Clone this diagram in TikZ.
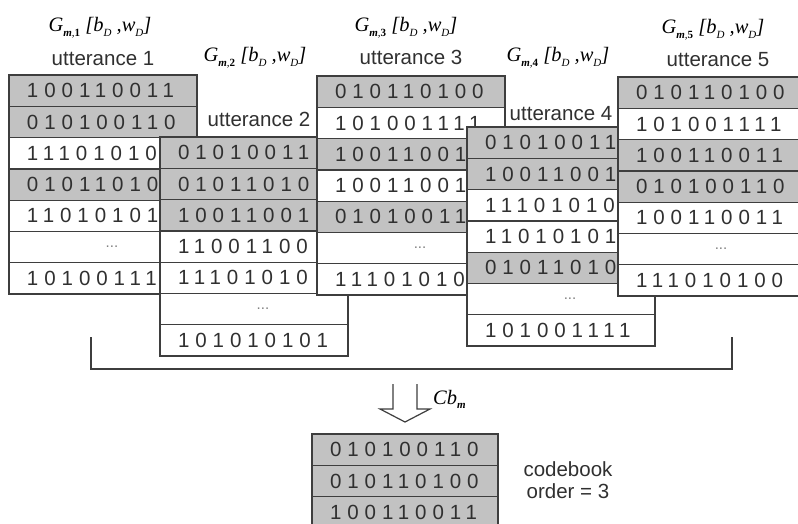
\documentclass[tikz,border=0pt]{standalone}
\usepackage{fontspec}
\setmainfont{Liberation Sans}
\newfontfamily\bitfont[LetterSpace=29]{Liberation Sans}
\newfontfamily\labfont{Liberation Serif}
\usepackage{tikz}
\definecolor{cellgray}{RGB}{194,194,194}
\definecolor{edgegray}{RGB}{62,62,62}
\definecolor{inkgray}{RGB}{48,48,48}
\newcommand{\sublow}[1]{\raisebox{-0.5ex}{\fontsize{11}{11}\selectfont #1}}
\newcommand{\gsub}[1]{G\sublow{\textbf{m},\textup{\textbf{#1}}}\ [b\sublow{D} ,w\sublow{D}]}
\tikzset{
  cell/.style={shape=rectangle,draw=edgegray,line width=1.3pt,fill=white,outer sep=0pt,
    minimum height=31.3pt,minimum width=188pt,text width=188pt,inner xsep=0pt,inner ysep=0pt,
    align=left,anchor=north west,text=inkgray,execute at begin node={\hspace*{18pt}},
    font=\bitfont\fontsize{20.5}{24}\selectfont},
  gcell/.style={cell,fill=cellgray},
  dotcell/.style={cell,align=center,execute at begin node={},text=gray,
    font=\fontsize{15}{18}\selectfont},
  utt/.style={anchor=base,text=inkgray,inner sep=0pt,font=\fontsize{20.5}{24}\selectfont},
  glab/.style={anchor=base,text=black,inner sep=0pt,font=\labfont\itshape\fontsize{20.5}{24}\selectfont},
  outline/.style={draw=edgegray,line width=1.4pt}
}

\begin{document}
\begin{tikzpicture}[x=1pt,y=-1pt]
\useasboundingbox (0,0) rectangle (798,524);
\clip (0,0) rectangle (798,524);

% utterance 1
\path (100,32) node [glab] (g1) {\gsub{1}};
\path (103,66) node [utt] (t1) {utterance 1};
\path (9,75) node [gcell] (u1r1) {100110011};
\path (u1r1.south west) node [gcell] (u1r2) {010100110};
\path (u1r2.south west) node [cell] (u1r3) {11101010};
\path (u1r3.south west) node [gcell] (u1r4) {01011010};
\path (u1r4.south west) node [cell] (u1r5) {11010101};
\path (u1r5.south west) node [dotcell] (u1r6) {...};
\path (u1r6.south west) node [cell] (u1r7) {10100111};

% utterance 2
\path (255,62) node [glab] (g2) {\gsub{2}};
\path (259,127) node [utt] (t2) {utterance 2};
\path (160,137) node [gcell] (u2r1) {01010011};
\path (u2r1.south west) node [gcell] (u2r2) {01011010};
\path (u2r2.south west) node [gcell] (u2r3) {10011001};
\path (u2r3.south west) node [cell] (u2r4) {11001100};
\path (u2r4.south west) node [cell] (u2r5) {11101010};
\path (u2r5.south west) node [dotcell] (u2r6) {...};
\path (u2r6.south west) node [cell] (u2r7) {101010101};

% utterance 3
\path (406,32) node [glab] (g3) {\gsub{3}};
\path (411,65) node [utt] (t3) {utterance 3};
\path (317,76) node [gcell] (u3r1) {010110100};
\path (u3r1.south west) node [cell] (u3r2) {101001111};
\path (u3r2.south west) node [gcell] (u3r3) {10011001};
\path (u3r3.south west) node [cell] (u3r4) {10011001};
\path (u3r4.south west) node [gcell] (u3r5) {01010011};
\path (u3r5.south west) node [dotcell] (u3r6) {...};
\path (u3r6.south west) node [cell] (u3r7) {11101010};

% utterance 4
\path (558,62) node [glab] (g4) {\gsub{4}};
\path (561,121) node [utt] (t4) {utterance 4};
\path (467,127) node [gcell] (u4r1) {01010011};
\path (u4r1.south west) node [gcell] (u4r2) {10011001};
\path (u4r2.south west) node [cell] (u4r3) {11101010};
\path (u4r3.south west) node [cell] (u4r4) {11010101};
\path (u4r4.south west) node [gcell] (u4r5) {01011010};
\path (u4r5.south west) node [dotcell] (u4r6) {...};
\path (u4r6.south west) node [cell] (u4r7) {101001111};

% utterance 5
\path (713,34) node [glab] (g5) {\gsub{5}};
\path (718,67) node [utt] (t5) {utterance 5};
\path (618,77) node [gcell] (u5r1) {010110100};
\path (u5r1.south west) node [cell] (u5r2) {101001111};
\path (u5r2.south west) node [gcell] (u5r3) {100110011};
\path (u5r3.south west) node [gcell] (u5r4) {010100110};
\path (u5r4.south west) node [cell] (u5r5) {100110011};
\path (u5r5.south west) node [dotcell] (u5r6) {...};
\path (u5r6.south west) node [cell] (u5r7) {111010100};

% bracket and arrow
\coordinate (brL) at (91,337);
\coordinate (brB) at (91,369);
\coordinate (brR) at (732,337);
\draw [outline] (brL) -- (brB) -| (brR);
\coordinate (arrtip) at (405,422);
\draw [outline,line width=1.2pt,line join=miter] (393,384) -- (393,409) -- (380,409) -- (arrtip) -- (430,409) -- (417,409) -- (417,384);
\path (433,404) node [glab,anchor=base west] (cb) {Cb\sublow{\textbf{m}}};

% codebook
\path (312,434) node [gcell,minimum width=186pt,text width=186pt] (cb1) {010100110};
\path (cb1.south west) node [gcell,minimum width=186pt,text width=186pt] (cb2) {010110100};
\path (cb2.south west) node [gcell,minimum width=186pt,text width=186pt] (cb3) {100110011};
\path (568,461) node [anchor=north,align=center,inner sep=0pt,text=inkgray,font=\fontsize{20.5}{22}\selectfont] (order) {codebook\\order = 3};

\end{tikzpicture}
\end{document}
